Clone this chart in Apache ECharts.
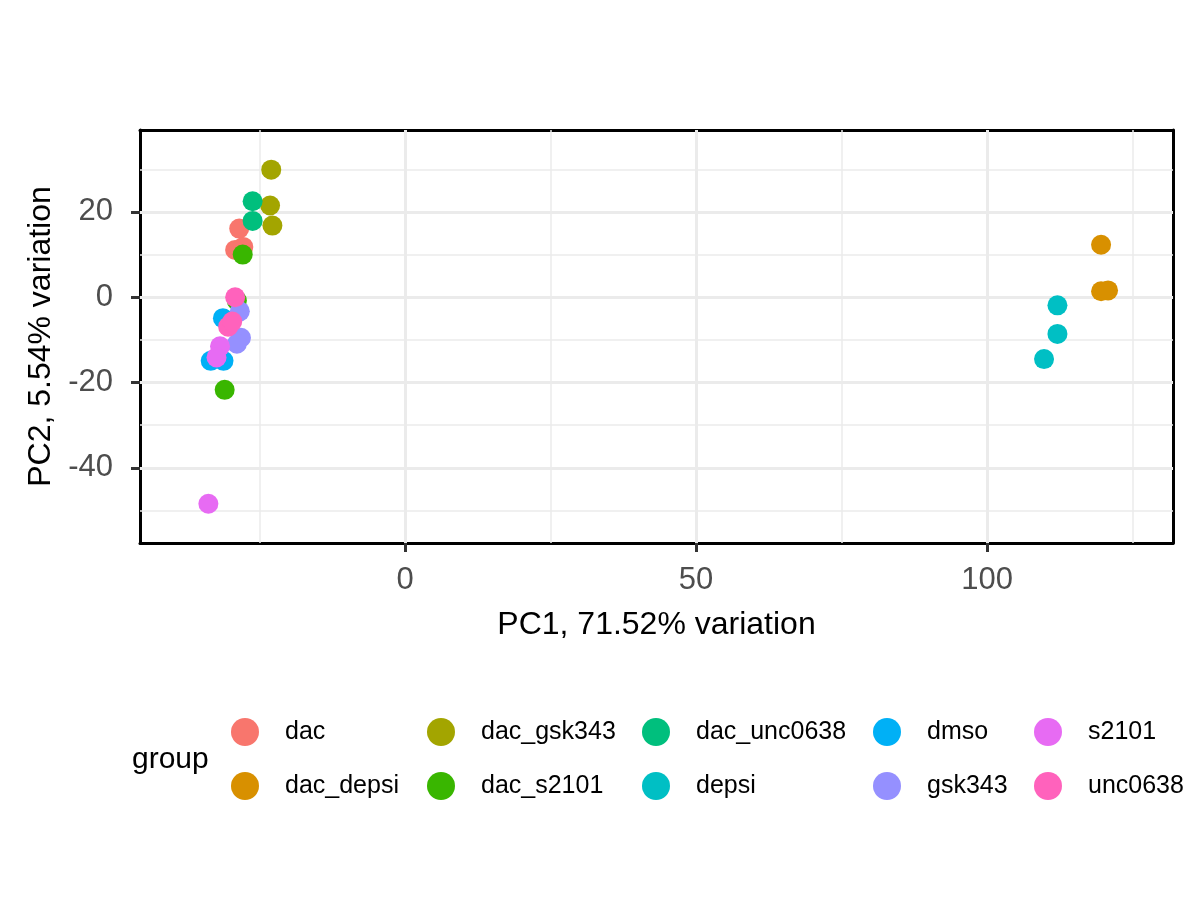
<!DOCTYPE html>
<html>
<head>
<meta charset="utf-8">
<script src="https://cdn.jsdelivr.net/npm/echarts@6/dist/echarts.min.js"></script>
<style>
  html, body { margin: 0; padding: 0; background: #fff; }
  #pca { width: 1200px; height: 900px; }
</style>
</head>
<body>
<div id="pca"></div>
<script>
// groups in legend order, ggplot hue palette
var groups = ['dac', 'dac_depsi', 'dac_gsk343', 'dac_s2101', 'dac_unc0638',
              'depsi', 'dmso', 'gsk343', 's2101', 'unc0638'];
var colors = ['#F8766D', '#D89000', '#A3A500', '#39B600', '#00BF7D',
              '#00BFC4', '#00B0F6', '#9590FF', '#E76BF3', '#FF62BC'];

// PC1 / PC2 scores
var dac        = [[-28.5, 16.1], [-29.2, 11.1], [-27.8, 11.8]];
var dacDepsi   = [[119.6, 12.3], [119.6, 1.4], [120.8, 1.6]];
var dacGsk343  = [[-23.0, 29.9], [-23.2, 21.5], [-22.8, 16.8]];
var dacS2101   = [[-27.9, 10.0], [-28.9, -0.8], [-31.0, -21.7]];
var dacUnc0638 = [[-26.2, 22.5], [-26.2, 17.9]];
var depsi      = [[112.1, -1.9], [112.1, -8.6], [109.8, -14.5]];
var dmso       = [[-31.3, -4.9], [-33.4, -14.9], [-31.2, -14.9]];
var gsk343     = [[-28.4, -3.3], [-28.2, -9.5], [-28.9, -10.9]];
var s2101      = [[-31.8, -11.5], [-32.4, -14.1], [-33.8, -48.4]];
var unc0638    = [[-29.2, 0.0], [-30.4, -6.9], [-29.7, -5.7]];
var scores = [dac, dacDepsi, dacGsk343, dacS2101, dacUnc0638,
              depsi, dmso, gsk343, s2101, unc0638];

// axis ticks and grid
var xMajor = [0, 50, 100];
var xMinor = [-25, 25, 75, 125];
var yMajor = [-40, -20, 0, 20];
var yMinor = [-50, -30, -10, 10, 30];
var xRange = [-45.55, 131.96];
var yRange = [-57.6, 39.2];

var chart = echarts.init(document.getElementById('pca'));
var font = 'Liberation Sans, Arial, Helvetica, sans-serif';

var gridLines = [];
xMajor.forEach(function (v) { gridLines.push({ xAxis: v, lineStyle: { width: 3 } }); });
xMinor.forEach(function (v) { gridLines.push({ xAxis: v, lineStyle: { width: 1.5 } }); });
yMajor.forEach(function (v) { gridLines.push({ yAxis: v, lineStyle: { width: 3 } }); });
yMinor.forEach(function (v) { gridLines.push({ yAxis: v, lineStyle: { width: 1.5 } }); });

var series = [{
  type: 'scatter',
  name: '_grid',
  data: [],
  z: 1,
  silent: true,
  markLine: {
    silent: true,
    animation: false,
    symbol: ['none', 'none'],
    label: { show: false },
    lineStyle: { color: '#ebebeb', type: 'solid' },
    emphasis: { disabled: true },
    data: gridLines
  }
}];
// points on their own layer so the grid lines stay underneath
groups.forEach(function (g, i) {
  series.push({
    type: 'scatter',
    name: g,
    data: scores[i],
    symbolSize: 20,
    zlevel: 1,
    itemStyle: { color: colors[i], opacity: 1 }
  });
});

var legendCols = [231, 427, 642, 873, 1034];
var legends = legendCols.map(function (left, c) {
  return {
    orient: 'vertical',
    left: left,
    top: 718,
    padding: 0,
    itemWidth: 28,
    itemHeight: 28,
    itemGap: 26,
    icon: 'circle',
    selectedMode: false,
    data: [groups[c * 2], groups[c * 2 + 1]],
    textStyle: { fontFamily: font, fontSize: 25, color: '#000', padding: [0, 0, 0, 21] }
  };
});

var option = {
  animation: false,
  backgroundColor: '#fff',
  grid: { left: 140, right: 27, top: 130, bottom: 357, show: false },
  xAxis: [{
    type: 'value',
    min: xRange[0],
    max: xRange[1],
    z: 3,
    name: 'PC1, 71.52% variation',
    nameLocation: 'middle',
    nameGap: 66,
    nameTextStyle: { fontFamily: font, fontSize: 32, color: '#000' },
    axisLine: { show: true, onZero: false, lineStyle: { color: '#000', width: 3 } },
    axisTick: { show: true, customValues: xMajor, length: 9, lineStyle: { color: '#333', width: 3 } },
    axisLabel: { customValues: xMajor, margin: 22, fontFamily: font, fontSize: 31, color: '#4d4d4d' },
    splitLine: { show: false }
  }, {
    type: 'value',
    position: 'top',
    min: xRange[0],
    max: xRange[1],
    z: 3,
    axisLine: { show: true, onZero: false, lineStyle: { color: '#000', width: 3 } },
    axisTick: { show: false },
    axisLabel: { show: false },
    splitLine: { show: false }
  }],
  yAxis: [{
    type: 'value',
    min: yRange[0],
    max: yRange[1],
    z: 3,
    name: 'PC2, 5.54% variation',
    nameLocation: 'middle',
    nameGap: 82,
    nameTextStyle: { fontFamily: font, fontSize: 32, color: '#000' },
    axisLine: { show: true, onZero: false, lineStyle: { color: '#000', width: 3 } },
    axisTick: { show: true, customValues: yMajor, length: 9, lineStyle: { color: '#333', width: 3 } },
    axisLabel: { customValues: yMajor, margin: 27, fontFamily: font, fontSize: 31, color: '#4d4d4d' },
    splitLine: { show: false }
  }, {
    type: 'value',
    position: 'right',
    min: yRange[0],
    max: yRange[1],
    z: 3,
    axisLine: { show: true, onZero: false, lineStyle: { color: '#000', width: 3 } },
    axisTick: { show: false },
    axisLabel: { show: false },
    splitLine: { show: false }
  }],
  legend: legends,
  graphic: [{
    type: 'text',
    left: 132,
    top: 745,
    style: { text: 'group', fontFamily: font, fontSize: 30, fill: '#000' }
  }],
  series: series
};

chart.setOption(option);
</script>
</body>
</html>
